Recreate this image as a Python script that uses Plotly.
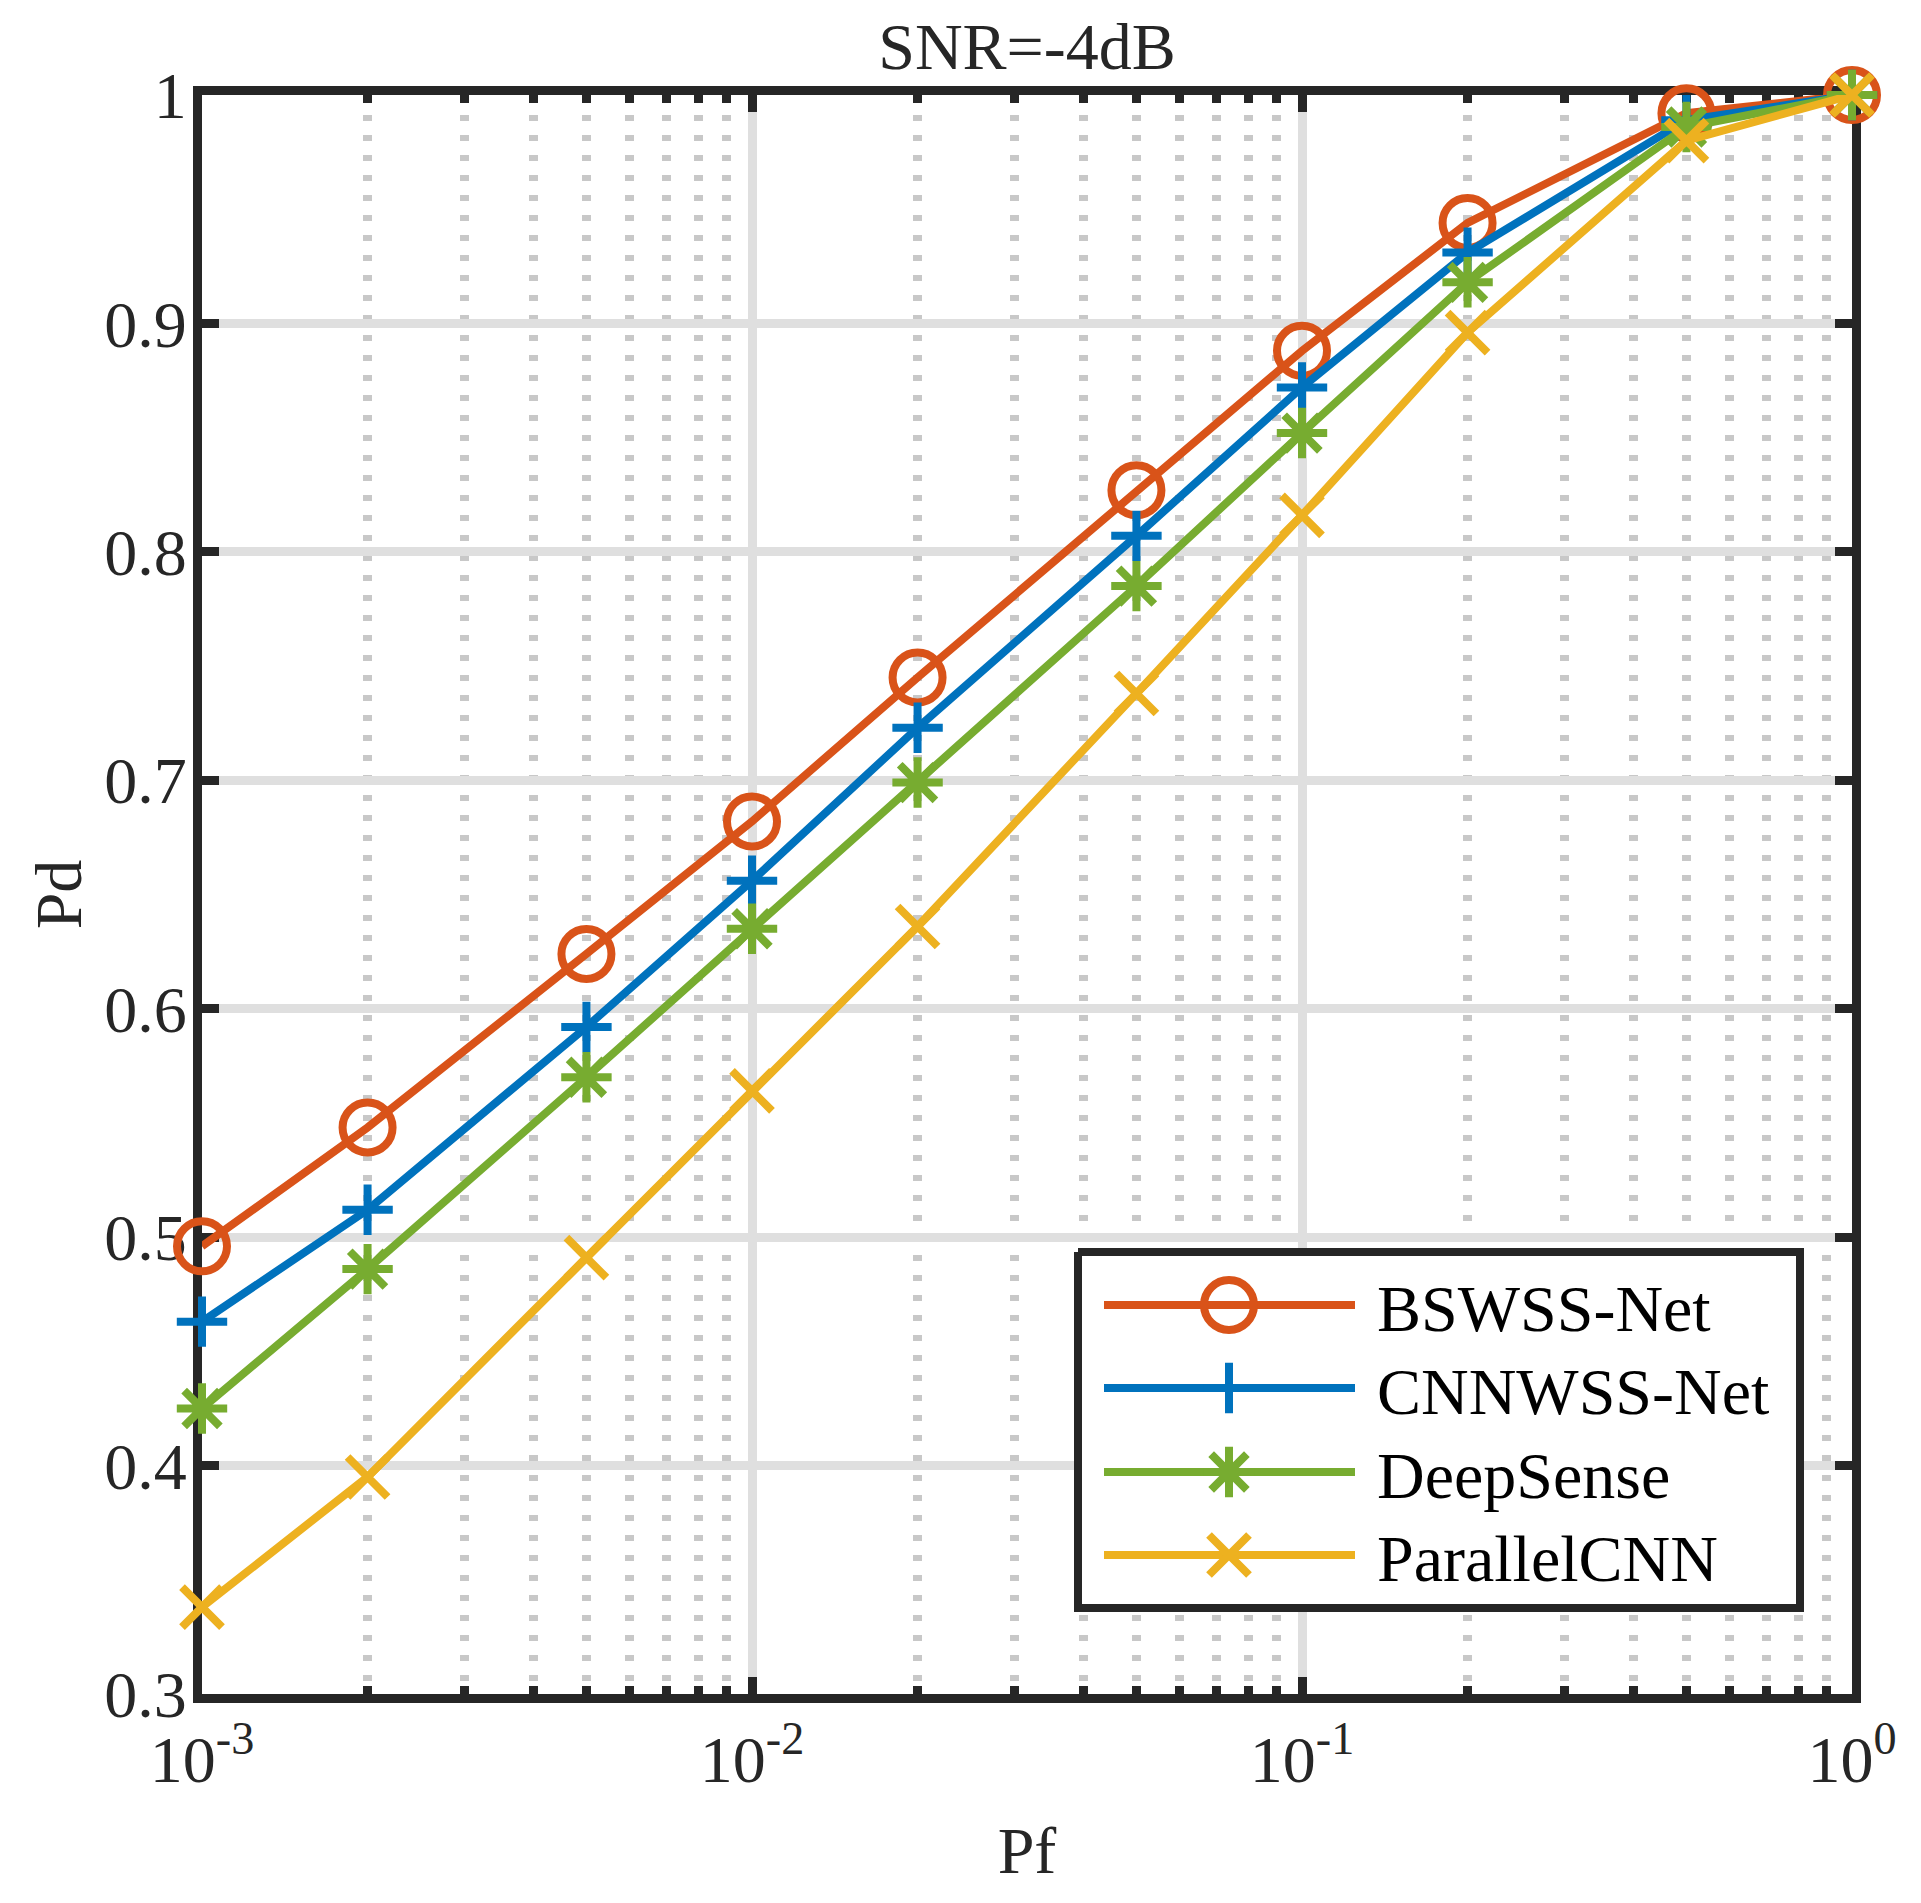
import plotly.graph_objects as go

# ---------------------------------------------------------------
# DATA
pf = [0.001, 0.002, 0.005, 0.01, 0.02, 0.05, 0.1, 0.2, 0.5, 1.0]

pd_bswss = [0.496, 0.548, 0.624, 0.682, 0.745, 0.827, 0.888, 0.944, 0.992, 1.0]
pd_cnnwss = [0.463, 0.512, 0.592, 0.656, 0.723, 0.807, 0.872, 0.931, 0.989, 1.0]
pd_deepsense = [0.425, 0.486, 0.570, 0.635, 0.699, 0.785, 0.852, 0.918, 0.986, 1.0]
pd_parallel = [0.338, 0.395, 0.491, 0.564, 0.636, 0.738, 0.816, 0.896, 0.980, 1.0]

names = ["BSWSS-Net", "CNNWSS-Net", "DeepSense", "ParallelCNN"]

x_tickvals = [0.001, 0.01, 0.1, 1.0]
x_ticktext = ["10<sup>-3</sup>", "10<sup>-2</sup>", "10<sup>-1</sup>", "10<sup>0</sup>"]
y_tickvals = [0.3, 0.4, 0.5, 0.6, 0.7, 0.8, 0.9, 1.0]
y_ticktext = ["0.3", "0.4", "0.5", "0.6", "0.7", "0.8", "0.9", "1"]

title = "SNR=-4dB"
xlabel = "Pf"
ylabel = "Pd"

# ---------------------------------------------------------------
# STYLE
# the page puts the figure 8px in from the top left corner (body margin)
page_off = 8
W, H = 1921 - 2 * page_off, 1903 - 2 * page_off
ml, mt = 194, 87
pw, ph = 1650, 1599
mr, mb = W - ml - pw, H - mt - ph

font = "Liberation Serif"
fs = 66
ink = "#262626"
lw = 8

styles = [
    dict(color="#D95319", symbol="circle-open", size=50),
    dict(color="#0072BD", symbol="cross-thin-open", size=36),
    dict(color="#77AC30", symbol="asterisk-open", size=42),
    dict(color="#EDB120", symbol="x-thin-open", size=40),
]
series = [pd_bswss, pd_cnnwss, pd_deepsense, pd_parallel]

# minor tick positions for the log axis (2..9 of each decade)
minor_vals = [m * 10.0 ** e for e in (-3, -2, -1) for m in range(2, 10)]


# screen pixel -> fraction of plot area (used for the hand made legend)
def fx(px):
    return (px - page_off - ml) / pw


def fy(py):
    return (mt + ph - (py - page_off)) / ph


fig = go.Figure()

for yv, name, st in zip(series, names, styles):
    fig.add_trace(go.Scatter(
        x=pf, y=yv, name=name, mode="lines+markers", showlegend=False,
        cliponaxis=False,
        line=dict(color=st["color"], width=lw),
        marker=dict(symbol=st["symbol"], size=st["size"], color=st["color"],
                    line=dict(color=st["color"], width=lw)),
    ))

# ---------------------------------------------------------------
# LEGEND (drawn on an invisible overlay axis, MATLAB style long samples)
box_l, box_r, box_t, box_b = 1078, 1800, 1252, 1608
row_y = [1305, 1388, 1472, 1555]
samp_l, samp_r, samp_m, text_x = 1104, 1355, 1229, 1375

fig.add_trace(go.Scatter(
    x=[fx(box_l), fx(box_r), fx(box_r), fx(box_l), fx(box_l)],
    y=[fy(box_t), fy(box_t), fy(box_b), fy(box_b), fy(box_t)],
    xaxis="x2", yaxis="y2", mode="lines", fill="toself", fillcolor="white",
    line=dict(color=ink, width=8), showlegend=False, hoverinfo="skip",
))
for ry, name, st in zip(row_y, names, styles):
    fig.add_trace(go.Scatter(
        x=[fx(samp_l), fx(samp_r)], y=[fy(ry), fy(ry)],
        xaxis="x2", yaxis="y2", mode="lines", showlegend=False, hoverinfo="skip",
        line=dict(color=st["color"], width=lw),
    ))
    fig.add_trace(go.Scatter(
        x=[fx(samp_m)], y=[fy(ry)],
        xaxis="x2", yaxis="y2", mode="markers", showlegend=False, hoverinfo="skip",
        cliponaxis=False,
        marker=dict(symbol=st["symbol"], size=st["size"], color=st["color"],
                    line=dict(color=st["color"], width=lw)),
    ))
    fig.add_annotation(
        x=fx(text_x), y=fy(ry + 3), xref="paper", yref="paper",
        text=name, showarrow=False, xanchor="left", yanchor="middle",
        font=dict(family=font, size=fs, color="black"),
    )

# ---------------------------------------------------------------
# AXES
axis_common = dict(
    showline=True, linecolor=ink, linewidth=9, mirror="ticks",
    ticks="inside", ticklen=17, tickwidth=9, tickcolor=ink,
    showgrid=True, gridcolor="#dfdfdf", gridwidth=9, zeroline=False,
    layer="below traces",
    tickfont=dict(family=font, size=fs, color=ink),
    title_font=dict(family=font, size=fs, color=ink),
)

fig.update_layout(
    width=W, height=H,
    margin=dict(l=ml, r=mr, t=mt, b=mb, autoexpand=False),
    paper_bgcolor="white", plot_bgcolor="white",
    showlegend=False,
    title=dict(text=title, x=0.5, xref="paper", xanchor="center",
               y=1 - 38 / H, yref="container", yanchor="middle",
               font=dict(family=font, size=fs, color=ink)),
    xaxis=dict(
        type="log", range=[-3, 0], tickvals=x_tickvals, ticktext=x_ticktext,
        title=dict(text=xlabel, standoff=35),
        minor=dict(tickvals=minor_vals, ticks="inside", ticklen=8, tickwidth=9,
                   tickcolor=ink, showgrid=True, gridcolor="#c8c8c8",
                   gridwidth=9, griddash="6px,14px"),
        **axis_common,
    ),
    yaxis=dict(
        range=[0.3, 1.0], tickvals=y_tickvals, ticktext=y_ticktext,
        ticklabelstandoff=-7,
        title=dict(text=ylabel, standoff=5),
        **axis_common,
    ),
    xaxis2=dict(overlaying="x", range=[0, 1], visible=False, fixedrange=True),
    yaxis2=dict(overlaying="y", range=[0, 1], visible=False, fixedrange=True),
)

fig.write_html("out.html")
